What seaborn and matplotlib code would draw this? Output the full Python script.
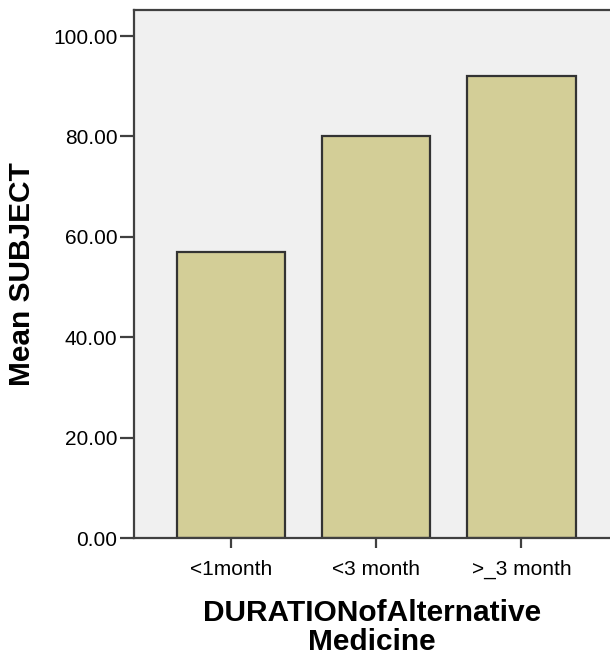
import matplotlib
matplotlib.use("Agg")
import matplotlib.pyplot as plt
import seaborn as sns

# Mean SUBJECT score by duration of alternative medicine use
categories = ["<1month", "<3 month", ">_3 month"]
mean_subject = [57.0, 80.0, 92.0]
y_ticks = [0, 20, 40, 60, 80, 100]

sns.set_style("white")
plt.rcParams["font.family"] = ["Liberation Sans", "DejaVu Sans"]
plt.rcParams["text.color"] = "black"
plt.rcParams["axes.labelcolor"] = "black"

fig = plt.figure(figsize=(6.1, 6.57), dpi=100)
ax = fig.add_axes([134 / 610, 119 / 657, 476 / 610, 528 / 657])
ax.set_facecolor("#F0F0F0")

sns.barplot(x=categories, y=mean_subject, ax=ax, color="#D3CE97",
            edgecolor="#333333", linewidth=1.6, width=0.745, saturation=1)

ax.set_xlim(-0.67, 2.61)
ax.set_ylim(0, 105.2)
ax.set_yticks(y_ticks)
ax.set_yticklabels([f"{v:.2f}" for v in y_ticks])

for side in ["left", "bottom", "top"]:
    ax.spines[side].set_visible(True)
    ax.spines[side].set_color("#404040")
    ax.spines[side].set_linewidth(1.6)
ax.spines["right"].set_visible(False)

ax.tick_params(axis="y", direction="out", length=10, width=1.6, color="#404040",
               pad=2, labelsize=15, left=True, labelcolor="black")
ax.tick_params(axis="x", direction="out", length=7, width=1.6, color="#404040",
               pad=9, labelsize=15, bottom=True, labelcolor="black")

ax.set_ylabel("Mean SUBJECT", fontsize=21.5, fontweight="bold", labelpad=12)
ax.set_xlabel("DURATIONofAlternative\nMedicine", fontsize=21.5, fontweight="bold",
              labelpad=14, linespacing=1.05)

fig.savefig("out.png", dpi=100)
